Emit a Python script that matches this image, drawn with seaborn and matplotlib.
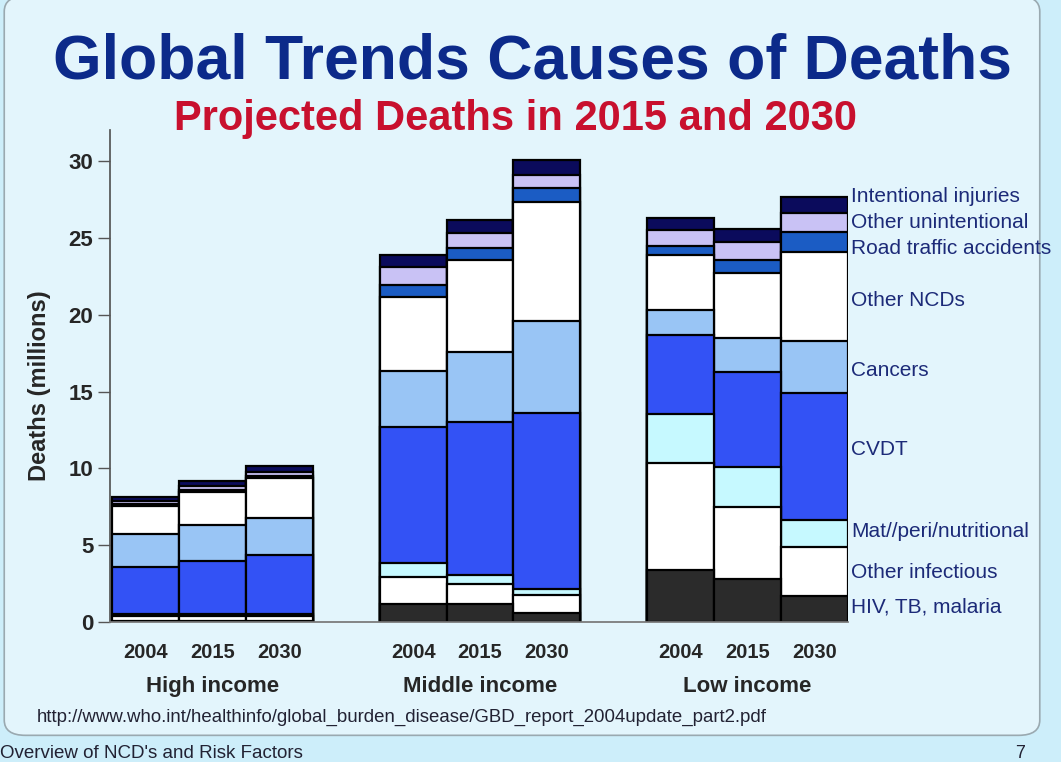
import numpy as np
import pandas as pd
import matplotlib.pyplot as plt
import seaborn as sns
from matplotlib.patches import FancyBboxPatch

# -----------------------------
# Data (millions of deaths)
# -----------------------------
groups = ["High income", "Middle income", "Low income"]
years = ["2004", "2015", "2030"]

causes = [
    "HIV, TB, malaria",
    "Other infectious",
    "Mat//peri/nutritional",
    "CVDT",
    "Cancers",
    "Other NCDs",
    "Road traffic accidents",
    "Other unintentional",
    "Intentional injuries",
]

# one list per cause: High 2004/2015/2030, Middle 2004/2015/2030, Low 2004/2015/2030
hiv_tb_malaria = [0.05, 0.05, 0.05, 1.17, 1.17, 0.56, 3.38, 2.77, 1.69]
other_infectious = [0.35, 0.35, 0.35, 1.77, 1.28, 1.19, 6.99, 4.72, 3.20]
mat_peri_nutr = [0.10, 0.12, 0.12, 0.93, 0.60, 0.37, 3.18, 2.59, 1.78]
cvd = [3.09, 3.46, 3.83, 8.81, 9.94, 11.47, 5.13, 6.17, 8.22]
cancers = [2.12, 2.32, 2.45, 3.64, 4.59, 6.02, 1.64, 2.21, 3.42]
other_ncds = [1.82, 2.16, 2.57, 4.81, 5.97, 7.75, 3.58, 4.25, 5.80]
road_traffic = [0.12, 0.12, 0.12, 0.80, 0.82, 0.91, 0.58, 0.86, 1.28]
other_unintentional = [0.25, 0.25, 0.30, 1.19, 0.95, 0.82, 1.02, 1.13, 1.25]
intentional = [0.24, 0.32, 0.36, 0.78, 0.87, 0.95, 0.82, 0.86, 1.02]

values = [hiv_tb_malaria, other_infectious, mat_peri_nutr, cvd, cancers,
          other_ncds, road_traffic, other_unintentional, intentional]

colors = ["#2b2b2b", "#ffffff", "#c6f9ff", "#3352f5", "#99c5f5",
          "#ffffff", "#1b5cc4", "#c9c2f5", "#0b0b5c"]

# label heights next to the low-income bars
label_y = [1.0, 3.2, 5.9, 11.2, 16.4, 20.9, 24.3, 26.0, 27.7]

# -----------------------------
# Build long table
# -----------------------------
rows = []
for gi, g in enumerate(groups):
    for yi, yr in enumerate(years):
        k = gi * 3 + yi
        for ci, c in enumerate(causes):
            rows.append({"group": g, "year": yr, "pos": gi * 4 + yi,
                         "cause": c, "deaths": values[ci][k]})
df = pd.DataFrame(rows)
df["cum"] = df.groupby("pos")["deaths"].cumsum()

# -----------------------------
# Style
# -----------------------------
sns.set_theme(style="white")
plt.rcParams["font.family"] = ["Liberation Sans", "DejaVu Sans"]

fig = plt.figure(figsize=(10.61, 7.62), dpi=100)
fig.patch.set_facecolor("#cdeefa")
panel = FancyBboxPatch((0.004, 0.035), 0.976, 0.97, transform=fig.transFigure,
                       boxstyle="round,pad=0,rounding_size=0.02",
                       facecolor="#e3f5fc", edgecolor="#9aa9b0", linewidth=1.2,
                       zorder=-1)
fig.patches.append(panel)

ax = fig.add_axes([0.1037, 0.1837, 0.6955, 0.6453])
ax.set_facecolor("none")

# stacked bars: draw cumulative totals from the top layer down
for ci in reversed(range(len(causes))):
    sub = df[df["cause"] == causes[ci]]
    sns.barplot(data=sub, x="pos", y="cum", native_scale=True, width=1.0,
                color=colors[ci], saturation=1, edgecolor="black",
                linewidth=1.6, errorbar=None, ax=ax)

ax.set_xlim(-0.53, 10.5)
ax.set_ylim(0, 32)
ax.set_yticks([0, 5, 10, 15, 20, 25, 30])
ax.set_yticklabels([str(v) for v in [0, 5, 10, 15, 20, 25, 30]],
                   fontsize=16, fontweight="bold")
ax.set_xticks([gi * 4 + yi for gi in range(3) for yi in range(3)])
ax.set_xticklabels(years * 3, fontsize=14.5, fontweight="bold")
ax.tick_params(axis="y", length=8.5, width=1, color="#555555", left=True, pad=3.5)
ax.tick_params(axis="x", length=0, pad=15)
ax.set_xlabel("")
ax.set_ylabel("Deaths (millions)", fontsize=17, fontweight="bold")
ax.yaxis.set_label_coords(-0.08, 0.48)
for s in ["top", "right"]:
    ax.spines[s].set_visible(False)
ax.spines["left"].set_color("#555555")
ax.spines["bottom"].set_color("#777777")

for gi, g in enumerate(groups):
    ax.text(gi * 4 + 1, -4.2, g, ha="center", va="center", fontsize=16,
            fontweight="bold", clip_on=False)

for ci, c in enumerate(causes):
    ax.text(10.55, label_y[ci], c, ha="left", va="center", fontsize=15,
            color="#1c2a78", clip_on=False)

fig.text(0.502, 0.8976, "Global Trends Causes of Deaths", ha="center",
         va="baseline", fontsize=45, fontweight="bold", color="#0c2a8a")
fig.text(0.486, 0.829, "Projected Deaths in 2015 and 2030", ha="center",
         va="baseline", fontsize=30, fontweight="bold", color="#c8102e")
fig.text(0.035, 0.058,
         "http://www.who.int/healthinfo/global_burden_disease/GBD_report_2004update_part2.pdf",
         ha="left", va="center", fontsize=13.4, color="#222233")
fig.text(0.0, 0.011, "Overview of NCD's and Risk Factors", ha="left",
         va="center", fontsize=13.5, color="#222233")
fig.text(0.957, 0.011, "7", ha="left", va="center", fontsize=13, color="#222233")

fig.savefig("out.png", dpi=100, facecolor=fig.get_facecolor())
